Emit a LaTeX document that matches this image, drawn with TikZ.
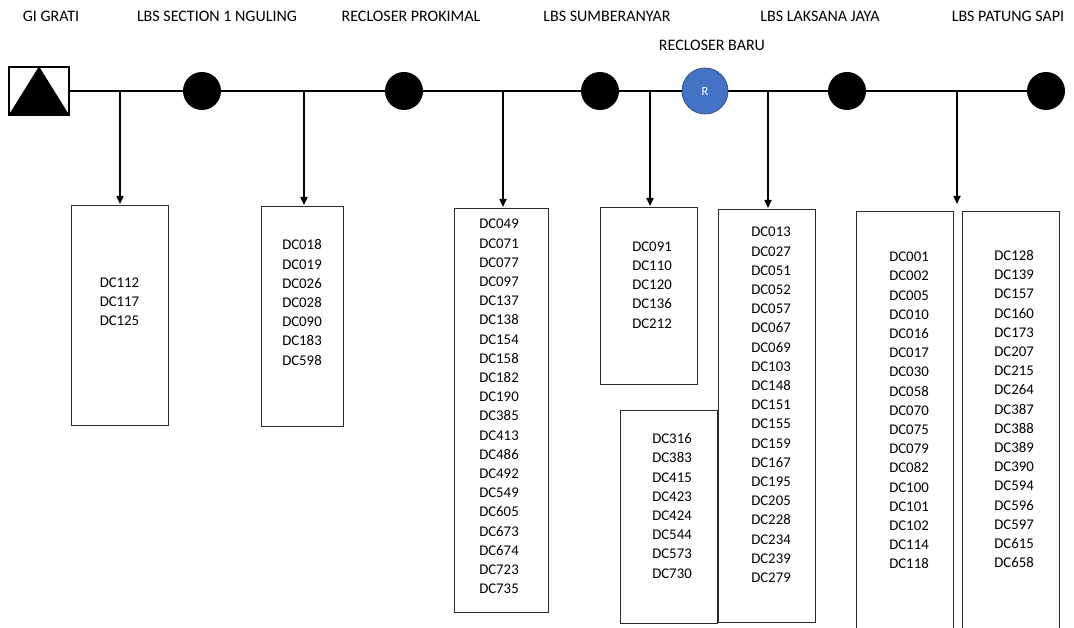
\documentclass[tikz,border=0pt]{standalone}
\usepackage{fontspec}
\setmainfont{Carlito}
\usetikzlibrary{arrows.meta,positioning}
\definecolor{recblue}{HTML}{4472C4}
\definecolor{recedge}{HTML}{2F528F}
\definecolor{boxline}{HTML}{2B2B2B}

\begin{document}
\begin{tikzpicture}[
  x=1pt,y=-1pt,
  station/.style={draw=black,line width=1.2pt,minimum width=60pt,minimum height=48pt,inner sep=0pt},
  lbs/.style={circle,fill=black,minimum size=38pt,inner sep=0pt},
  recl/.style={circle,fill=recblue,draw=recedge,line width=0.8pt,minimum size=46pt,inner sep=0pt,
               text=white,font=\fontsize{12.5}{14}\selectfont},
  tag/.style={anchor=base,inner sep=0pt,font=\fontsize{16}{19}\selectfont},
  dcbox/.style={draw=boxline,line width=1.1pt,anchor=north west,inner sep=0pt},
  dclist/.style={align=center,inner sep=0pt,font=\fontsize{14.8}{19.2}\selectfont},
  bus/.style={line width=1.8pt},
  link/.style={-{Triangle[length=8pt,width=7pt]},line width=1.6pt,shorten >=1pt}
]
\useasboundingbox (0,0) rectangle (1074,628);
\clip (0,0) rectangle (1074,628);

% top labels
\node[tag] (lgi)  at (51,21.5)   {GI GRATI};
\node[tag] (lng)  at (217,21.5)  {LBS SECTION 1 NGULING};
\node[tag] (lpro) at (411,21.5)  {RECLOSER PROKIMAL};
\node[tag] (lsum) at (607,21.5)  {LBS SUMBERANYAR};
\node[tag] (llj)  at (820,21.5)  {LBS LAKSANA JAYA};
\node[tag] (lps)  at (1008,21.5) {LBS PATUNG SAPI};
\node[tag] (lrb)  at (712,50.5)  {RECLOSER BARU};

% feeder line
\node[station] (gi) at (39,91) {};
\fill (gi.south west) -- (gi.north) -- (gi.south east) -- cycle;
\node[lbs]  (s1) at (202,91)  {};
\node[lbs]  (s2) at (404,91)  {};
\node[lbs]  (s3) at (600,91)  {};
\node[recl] (rb) at (705,91)  {R};
\node[lbs]  (s4) at (847,91)  {};
\node[lbs]  (s5) at (1046,91) {};
\draw[bus] (gi.east) -- (s1) -- (s2) -- (s3) -- (rb) -- (s4) -- (s5);

\coordinate (t1) at (120,91);
\coordinate (t2) at (304,91);
\coordinate (t3) at (503,91);
\coordinate (t4) at (650,91);
\coordinate (t5) at (768,91);
\coordinate (t6) at (957,91);

% load boxes
\node[dcbox,minimum width=97pt,minimum height=220pt] (b1) at (71,205) {};
\node[dcbox,minimum width=82pt,minimum height=220pt] (b2) at (261,206) {};
\node[dcbox,minimum width=94pt,minimum height=404pt] (b3) at (454,208) {};
\node[dcbox,minimum width=97pt,minimum height=177pt] (b4) at (600,207) {};
\node[dcbox,minimum width=97pt,minimum height=213pt] (b5) at (620,410) {};
\node[dcbox,minimum width=97pt,minimum height=413pt] (b6) at (718,209) {};
\node[dcbox,minimum width=97pt,minimum height=440pt] (b7) at (856,211) {};
\node[dcbox,minimum width=97pt,minimum height=440pt] (b8) at (962,211) {};

\node[dclist] (d1) at (119.5,302) {DC112\\DC117\\DC125};
\node[dclist] (d2) at (302,302.5) {DC018\\DC019\\DC026\\DC028\\DC090\\DC183\\DC598};
\node[dclist] (d3) at (499,406.5) {DC049\\DC071\\DC077\\DC097\\DC137\\DC138\\DC154\\DC158\\DC182\\DC190\\
  DC385\\DC413\\DC486\\DC492\\DC549\\DC605\\DC673\\DC674\\DC723\\DC735};
\node[dclist] (d4) at (652,285) {DC091\\DC110\\DC120\\DC136\\DC212};
\node[dclist] (d5) at (672,506) {DC316\\DC383\\DC415\\DC423\\DC424\\DC544\\DC573\\DC730};
\node[dclist] (d6) at (771,405) {DC013\\DC027\\DC051\\DC052\\DC057\\DC067\\DC069\\DC103\\DC148\\DC151\\
  DC155\\DC159\\DC167\\DC195\\DC205\\DC228\\DC234\\DC239\\DC279};
\node[dclist] (d7) at (909,410.5) {DC001\\DC002\\DC005\\DC010\\DC016\\DC017\\DC030\\DC058\\DC070\\
  DC075\\DC079\\DC082\\DC100\\DC101\\DC102\\DC114\\DC118};
\node[dclist] (d8) at (1014,409) {DC128\\DC139\\DC157\\DC160\\DC173\\DC207\\DC215\\DC264\\DC387\\
  DC388\\DC389\\DC390\\DC594\\DC596\\DC597\\DC615\\DC658};

% taps
\draw[link] (t1) -- (t1 |- b1.north);
\draw[link] (t2) -- (t2 |- b2.north);
\draw[link] (t3) -- (t3 |- b3.north);
\draw[link] (t4) -- (t4 |- b4.north);
\draw[link] (t5) -- (t5 |- b6.north);
\draw[link,shorten >=7pt] (t6) -- (t6 |- b7.north);
\end{tikzpicture}
\end{document}
